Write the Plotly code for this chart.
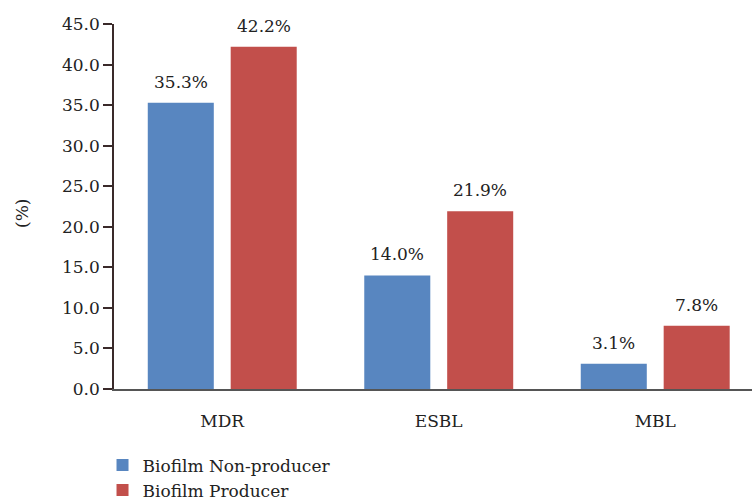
import plotly.graph_objects as go

categories = ["MDR", "ESBL", "MBL"]
non_producer = [35.3, 14.0, 3.1]
producer = [42.2, 21.9, 7.8]
series_names = ["Biofilm Non-producer", "Biofilm Producer"]
y_ticks = [0, 5, 10, 15, 20, 25, 30, 35, 40, 45]

FONT = "'DejaVu Serif', serif"
BLUE = "#5886C0"
RED = "#C24F4B"
TXT = "#222"
BW = 0.305
OFFS = [-0.344, 0.039]
FS = 17

fig = go.Figure()
annotations = []
for vals, name, color, off in [(non_producer, series_names[0], BLUE, OFFS[0]),
                               (producer, series_names[1], RED, OFFS[1])]:
    fig.add_trace(go.Bar(
        x=categories, y=vals, name=name,
        marker=dict(color=color, line=dict(width=0)),
        width=BW, offset=off,
    ))
    for i, v in enumerate(vals):
        annotations.append(dict(
            x=i + off + BW / 2, y=v, xref="x", yref="y",
            text=f"{v:.1f}%", showarrow=False, yanchor="bottom",
            yshift=9, font=dict(family=FONT, size=FS, color=TXT),
        ))

annotations.append(dict(
    text="(%)", xref="paper", yref="paper", x=-0.144, y=0.48,
    xanchor="center", yanchor="middle", textangle=-90, showarrow=False,
    font=dict(family=FONT, size=FS, color=TXT),
))

fig.update_layout(
    width=752, height=504,
    margin=dict(l=114, r=0, t=24, b=115, autoexpand=False),
    paper_bgcolor="white", plot_bgcolor="white",
    font=dict(family=FONT, size=FS, color=TXT),
    barmode="overlay",
    showlegend=True,
    legend=dict(
        orientation="v", x=-0.018, xanchor="left", y=-0.16, yanchor="top",
        font=dict(family=FONT, size=FS, color=TXT),
        tracegroupgap=0, itemwidth=30,
    ),
    xaxis=dict(
        range=[-0.5, 2.447], showgrid=False, zeroline=False,
        showline=True, linecolor="#555", linewidth=1.5,
        ticks="", ticklabelstandoff=16,
        tickfont=dict(family=FONT, size=FS, color=TXT),
    ),
    yaxis=dict(
        range=[0, 45], tickvals=y_ticks,
        ticktext=[f"{v:.1f}" for v in y_ticks],
        showgrid=False, zeroline=False,
        showline=True, linecolor="#3a2a2a", linewidth=1.5,
        ticks="outside", ticklen=9, tickcolor="#3a2a2a", tickwidth=1.5,
        tickfont=dict(family=FONT, size=FS, color=TXT),
    ),
    annotations=annotations,
)

fig.write_html("out.html")
